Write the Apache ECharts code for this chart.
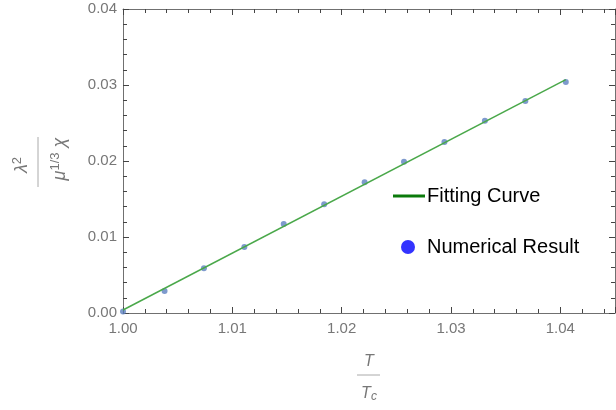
<!DOCTYPE html>
<html>
<head>
<meta charset="utf-8">
<script src="https://cdn.jsdelivr.net/npm/echarts@6/dist/echarts.min.js"></script>
<style>html,body{margin:0;padding:0;background:#fff;}#c{width:616px;height:410px;}</style>
</head>
<body>
<div id="c"></div>
<script>
// Data
const fitX = [1.0, 1.0405];
const fitY = [0.0004, 0.0307];
const ptsX = [1.0, 1.0038, 1.0074, 1.0111, 1.0147, 1.0184, 1.0221, 1.0257, 1.0294, 1.0331, 1.0368, 1.0405];
const ptsY = [0.0002, 0.0029, 0.0059, 0.0087, 0.0117, 0.0143, 0.0172, 0.0199, 0.0225, 0.0253, 0.0279, 0.0304];
const xRange = [1.0, 1.045];
const yRange = [0.0, 0.04];
const xStep = 0.01, yStep = 0.01;

const fitData = fitX.map((x, i) => [x, fitY[i]]);
const ptsData = ptsX.map((x, i) => [x, ptsY[i]]);

const frameColor = '#707070';
const tickColor = '#444444';
const labelColor = '#777777';
const baseFont = 'Liberation Sans, Arial, sans-serif';

function makeAxis(kind, position, range, step, showLabels, margin) {
  return {
    type: 'value', position: position, min: range[0], max: range[1], interval: step,
    axisLine: { show: true, onZero: false, lineStyle: { color: frameColor, width: 1 } },
    axisTick: { show: true, inside: true, length: 6, lineStyle: { color: tickColor, width: 1 } },
    minorTick: { show: true, splitNumber: 5, length: 4, lineStyle: { color: tickColor, width: 1 } },
    splitLine: { show: false },
    axisLabel: {
      show: showLabels, color: labelColor, fontSize: 15, fontFamily: baseFont,
      margin: margin, showMaxLabel: kind === 'y',
      formatter: v => v.toFixed(2)
    }
  };
}

const chart = echarts.init(document.getElementById('c'));
chart.setOption({
  animation: false,
  grid: { left: 123, right: 1, top: 9, bottom: 97 },
  xAxis: [
    makeAxis('x', 'bottom', xRange, xStep, true, 8),
    makeAxis('x', 'top', xRange, xStep, false, 0)
  ],
  yAxis: [
    makeAxis('y', 'left', yRange, yStep, true, 6),
    makeAxis('y', 'right', yRange, yStep, false, 0)
  ],
  legend: [
    {
      data: [{ name: 'Fitting Curve', icon: 'rect', itemStyle: { color: '#0b7a0b' } }],
      left: 393, top: 186, padding: 0, itemWidth: 32, itemHeight: 3, selectedMode: false,
      textStyle: { fontSize: 20, color: '#000', fontFamily: baseFont, padding: [0, 0, 0, -3] }
    },
    {
      data: [{ name: 'Numerical Result', icon: 'circle', itemStyle: { color: '#0000ff' } }],
      left: 401, top: 237, padding: 0, itemWidth: 14, itemHeight: 14, selectedMode: false,
      textStyle: { fontSize: 20, color: '#000', fontFamily: baseFont, padding: [0, 0, 0, 7] }
    }
  ],
  series: [
    {
      name: 'Fitting Curve', type: 'line', data: fitData, showSymbol: false, symbol: 'none',
      lineStyle: { color: '#4aa84a', width: 1.5 }, itemStyle: { color: '#4aa84a' }
    },
    {
      name: 'Numerical Result', type: 'scatter', data: ptsData, symbolSize: 6,
      itemStyle: { color: '#5e81c0' }
    }
  ],
  graphic: [
    {
      type: 'group', x: 369, y: 375,
      children: [
        { type: 'text', x: 0, y: -13, style: { text: 'T', font: 'italic 16px ' + baseFont, fill: labelColor, align: 'center', verticalAlign: 'middle' } },
        { type: 'line', shape: { x1: -12, y1: 0, x2: 11, y2: 0 }, style: { stroke: '#aaaaaa', lineWidth: 1 } },
        { type: 'text', x: 0, y: 19, style: {
          text: '{t|T}{s|c}', align: 'center', verticalAlign: 'middle',
          rich: {
            t: { font: 'italic 16px ' + baseFont, fill: labelColor, verticalAlign: 'middle' },
            s: { font: 'italic 12px ' + baseFont, fill: labelColor, verticalAlign: 'bottom', padding: [6, 0, 0, 0] }
          }
        } }
      ]
    },
    {
      type: 'group', x: 38, y: 162, rotation: Math.PI / 2,
      children: [
        { type: 'text', x: -3, y: -17, style: {
          text: '{t|λ}{s|2}', align: 'center', verticalAlign: 'middle',
          rich: {
            t: { font: 'italic 18px ' + baseFont, fill: labelColor, verticalAlign: 'bottom' },
            s: { font: '13px ' + baseFont, fill: labelColor, verticalAlign: 'top', padding: [0, 0, 7, 0] }
          }
        } },
        { type: 'line', shape: { x1: -25, y1: 0, x2: 25, y2: 0 }, style: { stroke: '#aaaaaa', lineWidth: 1 } },
        { type: 'text', x: 3, y: 21, style: {
          text: '{t|μ}{s|1/3}{t| χ}', align: 'center', verticalAlign: 'middle',
          rich: {
            t: { font: 'italic 18px ' + baseFont, fill: labelColor, verticalAlign: 'bottom' },
            s: { font: '13px ' + baseFont, fill: labelColor, verticalAlign: 'top', padding: [0, 0, 7, 0] }
          }
        } }
      ]
    }
  ]
});
</script>
</body>
</html>
